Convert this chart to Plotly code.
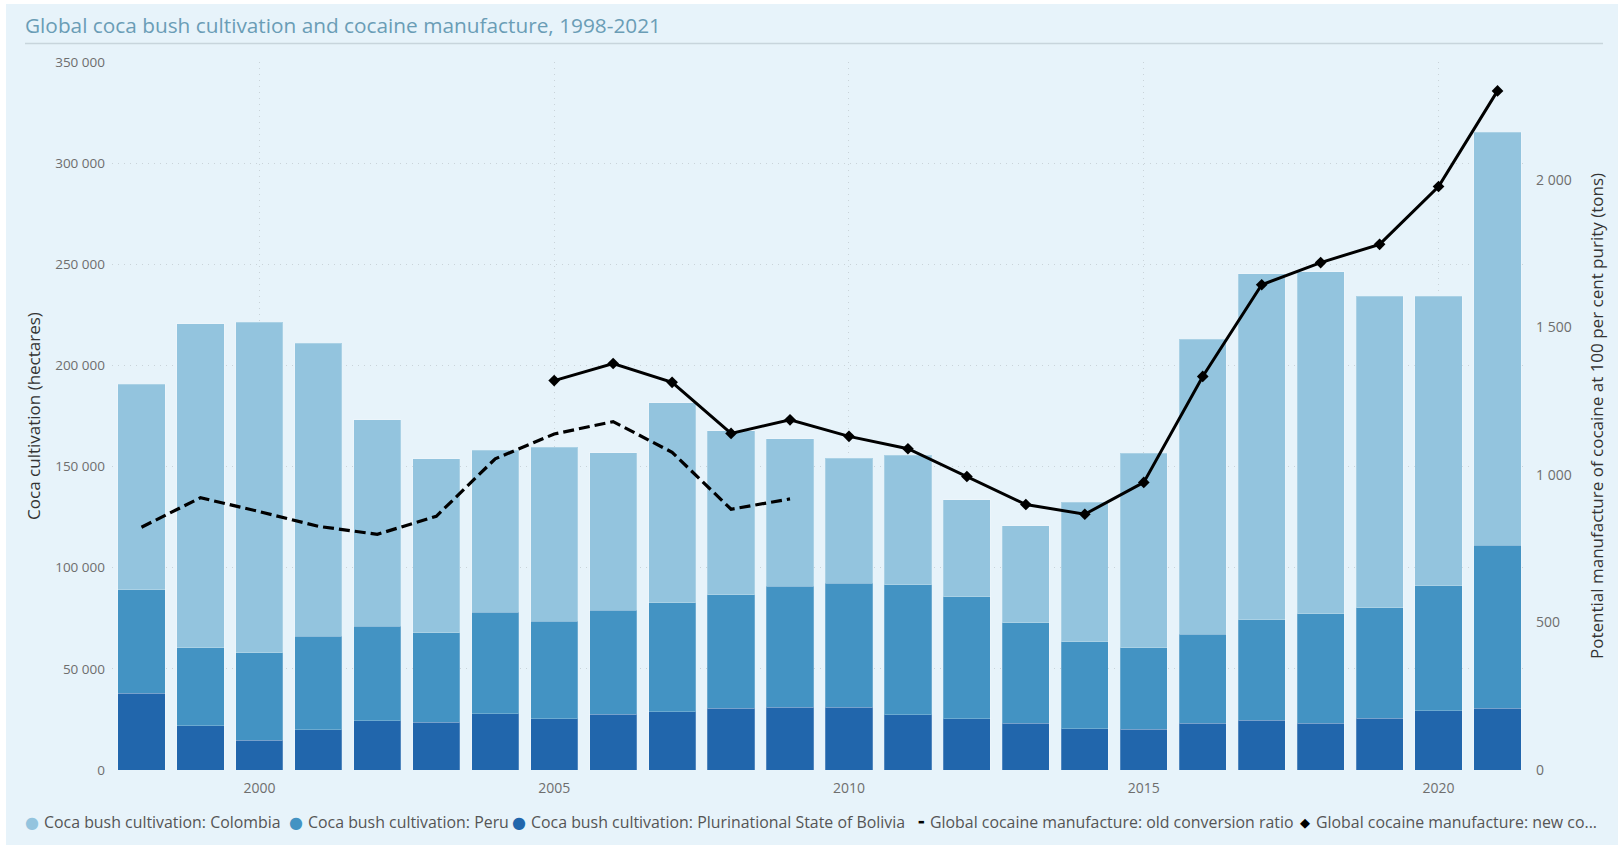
import plotly.graph_objects as go

# Coca bush cultivation (hectares) by country, 1998-2021
years = list(range(1998, 2022))
colombia = [101800, 160100, 163300, 144800, 102000, 86000, 80000, 86000, 78000, 99000, 81000, 73000,
            62000, 64000, 48000, 48000, 69000, 96000, 146000, 171000, 169000, 154000, 143000, 204000]
peru = [51000, 38700, 43400, 46200, 46700, 44200, 50300, 48200, 51400, 53700, 56100, 59900,
        61200, 64400, 60400, 49800, 42900, 40300, 43900, 49900, 54100, 54700, 61800, 80700]
bolivia = [38000, 21800, 14600, 19900, 24400, 23600, 27700, 25400, 27500, 28900, 30500, 30900,
           31000, 27200, 25300, 23000, 20400, 20200, 23100, 24500, 23100, 25500, 29400, 30500]

# Global cocaine manufacture (tons, 100% purity)
old_years = list(range(1998, 2010))
old_ratio = [823, 923, 876, 826, 799, 860, 1055, 1139, 1181, 1077, 884, 919]
new_years = list(range(2005, 2022))
new_ratio = [1320, 1378, 1314, 1141, 1187, 1131, 1089, 995, 900, 867, 975, 1334, 1645, 1720, 1782, 1978, 2302]

left_ticks = [0, 50000, 100000, 150000, 200000, 250000, 300000, 350000]
right_ticks = [0, 500, 1000, 1500, 2000]
year_ticks = [2000, 2005, 2010, 2015, 2020]

C_COL = "#93C4DE"
C_PER = "#4393C3"
C_BOL = "#2166AC"
BG = "#E7F3FA"
FONT = "Open Sans"

W, H = 1624, 849
ML, MR, MT, MB = 112, 97, 62, 79
PW, PH = W - ML - MR, H - MT - MB


def px_x(x):
    return (x - ML) / PW


def px_y(y):
    return (H - MB - y) / PH


fig = go.Figure()
for name, vals, col in [
    ("Coca bush cultivation: Plurinational State of Bolivia", bolivia, C_BOL),
    ("Coca bush cultivation: Peru", peru, C_PER),
    ("Coca bush cultivation: Colombia", colombia, C_COL),
]:
    fig.add_trace(go.Bar(
        x=years, y=vals, name=name, marker=dict(color=col, line=dict(color="rgba(255,255,255,0.22)", width=1)),
        showlegend=False,
    ))

fig.add_trace(go.Scatter(
    x=old_years, y=old_ratio, yaxis="y2", mode="lines",
    name="Global cocaine manufacture: old conversion ratio",
    line=dict(color="black", width=3.2, dash="11px,5px"), showlegend=False,
))
fig.add_trace(go.Scatter(
    x=new_years, y=new_ratio, yaxis="y2", mode="lines+markers",
    name="Global cocaine manufacture: new conversion ratio",
    line=dict(color="black", width=3), marker=dict(symbol="diamond", size=9, color="black"),
    showlegend=False,
))

grid = dict(showgrid=True, gridcolor="#C9D3D9", gridwidth=1, griddash="1px,5px")

fig.update_layout(
    width=W, height=H,
    margin=dict(l=ML, r=MR, t=MT, b=MB),
    paper_bgcolor="white", plot_bgcolor="rgba(0,0,0,0)",
    barmode="stack", bargap=0.2,
    separators=". ",
    font=dict(family=FONT, size=13, color="#6E6E6E"),
    showlegend=False,
    title=dict(text="Global coca bush cultivation and cocaine manufacture, 1998-2021",
               x=25 / W, xanchor="left", y=1 - 26 / H, yanchor="middle",
               font=dict(family=FONT, size=20.8, color="#6A9DB6")),
    xaxis=dict(range=[1997.5, 2021.5], tickvals=year_ticks, ticks="", zeroline=False,
               tickfont=dict(size=14, color="#6E6E6E"), ticklabelstandoff=8, **grid),
    yaxis=dict(range=[0, 350000], tickvals=left_ticks, tickformat=",", ticks="", zeroline=False,
               tickfont=dict(size=13.5, color="#6E6E6E"), ticklabelstandoff=6,
               title=dict(text="Coca cultivation (hectares)", standoff=10,
                          font=dict(size=17, color="#333333")), **grid),
    yaxis2=dict(range=[0, 2400], tickvals=right_ticks, tickformat=",", overlaying="y", side="right",
                showgrid=False, zeroline=False, ticks="", ticklabelstandoff=8,
                tickfont=dict(size=14, color="#6E6E6E"),
                title=dict(text="Potential manufacture of cocaine at 100 per cent purity (tons)", standoff=20,
                           font=dict(size=17, color="#333333"))),
)

# light panel behind the chart and the rule under the title
fig.add_shape(type="rect", xref="paper", yref="paper", layer="below",
              x0=px_x(6), x1=px_x(W - 6), y0=px_y(H - 4), y1=px_y(4),
              fillcolor=BG, line=dict(width=0))
fig.add_shape(type="line", xref="paper", yref="paper",
              x0=px_x(25), x1=px_x(1603), y0=px_y(43.5), y1=px_y(43.5),
              line=dict(color="#C8D5DC", width=1.5))

# legend row
legend_items = [
    ("●", C_COL, 16, 32, 42, "Coca bush cultivation: Colombia"),
    ("●", C_PER, 16, 296, 306, "Coca bush cultivation: Peru"),
    ("●", C_BOL, 16, 519, 529, "Coca bush cultivation: Plurinational State of Bolivia"),
    ("▬", "black", 7, 921, 928, "Global cocaine manufacture: old conversion ratio"),
    ("◆", "black", 13, 1305, 1314, "Global cocaine manufacture: new co..."),
]
ly = px_y(822)
for sym, col, size, sx, tx, label in legend_items:
    fig.add_annotation(x=px_x(sx), y=ly, xref="paper", yref="paper", text=sym, showarrow=False,
                       xanchor="center", yanchor="middle", font=dict(size=size, color=col, family="DejaVu Sans"))
    fig.add_annotation(x=px_x(tx), y=ly, xref="paper", yref="paper", text=label, showarrow=False,
                       xanchor="left", yanchor="middle", font=dict(size=15.9, color="#555555", family=FONT))

fig.write_html("out.html")
